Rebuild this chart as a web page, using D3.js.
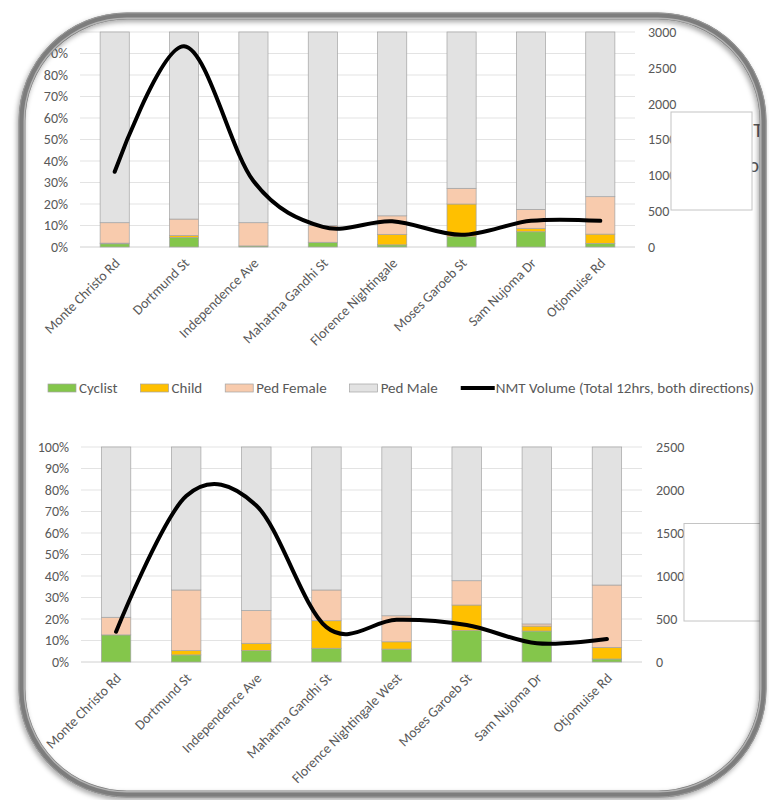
<!DOCTYPE html>
<html>
<head>
<meta charset="utf-8">
<script src="https://cdn.jsdelivr.net/npm/d3@7"></script>
<style>
  html, body { margin: 0; padding: 0; background: #ffffff; }
  svg { display: block; }
  text { font-family: Carlito, Lato, "Noto Sans", sans-serif; fill: #595959; }
</style>
</head>
<body>
<svg id="chart" width="769" height="800"></svg>
<script>
// ---- data -------------------------------------------------------------
const modes = ["Cyclist", "Child", "Ped Female", "Ped Male"];
const modeColors = ["#84c64b", "#ffc000", "#f8cbad", "#e2e2e2"];
const lineLabel = "NMT Volume (Total 12hrs, both directions)";

// upper panel
const roadsA = ["Monte Christo Rd", "Dortmund St", "Independence Ave", "Mahatma Gandhi St",
                "Florence Nightingale", "Moses Garoeb St", "Sam Nujoma Dr", "Otjomuise Rd"];
const cyclistA = [1.5, 4.5, 0.5, 2.2, 1.0, 4.8, 7.1, 1.7];
const childA   = [0.3, 0.8, 0.0, 0.0, 4.9, 15.2, 1.6, 4.3];
const femaleA  = [9.5, 7.7, 10.8, 7.8, 8.6, 7.3, 8.8, 17.4];
const volumeA  = [1050, 2800, 920, 280, 360, 170, 365, 365];
const pctTicksA = [0, 10, 20, 30, 40, 50, 60, 70, 80, 90, 100];
const volTicksA = [0, 500, 1000, 1500, 2000, 2500, 3000];

// lower panel
const roadsB = ["Monte Christo Rd", "Dortmund St", "Independence Ave", "Mahatma Gandhi St",
                "Florence Nightingale West", "Moses Garoeb St", "Sam Nujoma Dr", "Otjomuise Rd"];
const cyclistB = [12.6, 3.3, 5.3, 6.4, 6.0, 14.6, 14.4, 1.4];
const childB   = [0.0, 2.0, 3.4, 12.8, 3.4, 11.9, 2.3, 5.4];
const femaleB  = [8.2, 28.2, 15.2, 14.3, 12.1, 11.3, 1.0, 29.0];
const volumeB  = [352, 1930, 1820, 405, 490, 430, 217, 267];
const pctTicksB = [0, 10, 20, 30, 40, 50, 60, 70, 80, 90, 100];
const volTicksB = [0, 500, 1000, 1500, 2000, 2500];

// ---- helpers ----------------------------------------------------------
function rows(roads, cyc, chi, fem) {
  return roads.map((r, i) => ({
    road: r,
    "Cyclist": cyc[i],
    "Child": chi[i],
    "Ped Female": fem[i],
    "Ped Male": 100 - cyc[i] - chi[i] - fem[i]
  }));
}

const svg = d3.select("#chart");
const defs = svg.append("defs");

// frame geometry
const frame = { x: 22, y: 16, w: 741, h: 778, r: 105 };

defs.append("clipPath").attr("id", "inside")
  .append("rect")
  .attr("x", frame.x + 3).attr("y", frame.y + 3)
  .attr("width", frame.w - 6).attr("height", frame.h - 6)
  .attr("rx", frame.r - 3).attr("ry", frame.r - 3);

const shadow = defs.append("filter").attr("id", "frameShadow")
  .attr("x", "-5%").attr("y", "-5%").attr("width", "110%").attr("height", "110%");
shadow.append("feDropShadow").attr("dx", -1.5).attr("dy", 2.5)
  .attr("stdDeviation", 2.5).attr("flood-color", "#000").attr("flood-opacity", 0.35);

svg.append("rect").attr("width", 769).attr("height", 800).attr("fill", "#ffffff");

const content = svg.append("g").attr("clip-path", "url(#inside)");

function drawPanel(cfg) {
  const g = content.append("g");
  const data = rows(cfg.roads, cfg.cyc, cfg.chi, cfg.fem);

  const x = d3.scaleBand().domain(cfg.roads)
    .range([cfg.left, cfg.right]).paddingInner(0.58).paddingOuter(0.29);
  const y = d3.scaleLinear().domain([0, 100]).range([cfg.bottom, cfg.top]);
  const y2 = d3.scaleLinear().domain([0, d3.max(cfg.volTicks)]).range([cfg.bottom, cfg.top]);

  // gridlines
  g.append("g").selectAll("line").data(cfg.pctTicks).join("line")
    .attr("x1", cfg.left).attr("x2", cfg.right)
    .attr("y1", d => y(d)).attr("y2", d => y(d))
    .attr("stroke", d => d === 0 ? "#d0d0d0" : "#e3e3e3").attr("stroke-width", 1);

  // left percentage axis
  const axL = g.append("g").attr("transform", `translate(${cfg.left - 8},0)`)
    .call(d3.axisLeft(y).tickValues(cfg.pctTicks).tickFormat(d => d + "%")
      .tickSize(0).tickPadding(4));
  axL.select(".domain").remove();
  axL.selectAll("text").attr("font-size", 14).attr("fill", "#6e6e6e")
    .style("font-family", "Carlito, Lato, sans-serif");

  // right volume axis
  const axR = g.append("g").attr("transform", `translate(${cfg.rightAxisX},0)`)
    .call(d3.axisRight(y2).tickValues(cfg.volTicks).tickFormat(d3.format("d"))
      .tickSize(0).tickPadding(0));
  axR.select(".domain").remove();
  axR.selectAll("text").attr("font-size", 14).attr("fill", "#6e6e6e")
    .style("font-family", "Carlito, Lato, sans-serif");

  // stacked 100% bars
  const series = d3.stack().keys(modes)(data);
  g.append("g").selectAll("g").data(series).join("g")
    .attr("fill", (d, i) => modeColors[i])
    .selectAll("rect").data(d => d).join("rect")
    .attr("x", d => x(d.data.road))
    .attr("width", x.bandwidth())
    .attr("y", d => y(d[1]))
    .attr("height", d => Math.max(0, y(d[0]) - y(d[1])))
    .attr("stroke", "#a3a3a3").attr("stroke-width", 0.7);

  // rotated category labels
  g.append("g").selectAll("text").data(cfg.roads).join("text")
    .attr("text-anchor", "end")
    .attr("font-size", 14)
    .attr("fill", "#666")
    .attr("transform", d => `translate(${x(d) + x.bandwidth() / 2 + 6},${cfg.bottom + 17}) rotate(-45)`)
    .text(d => d);

  // smoothed volume line
  const line = d3.line()
    .x((d, i) => x(cfg.roads[i]) + x.bandwidth() / 2)
    .y(d => y2(d))
    .curve(d3.curveCardinal.tension(0));
  g.append("path").datum(cfg.vol)
    .attr("d", line)
    .attr("fill", "none").attr("stroke", "#000")
    .attr("stroke-width", 4).attr("stroke-linecap", "round").attr("stroke-linejoin", "round");
}

drawPanel({
  roads: roadsA, cyc: cyclistA, chi: childA, fem: femaleA, vol: volumeA,
  pctTicks: pctTicksA, volTicks: volTicksA,
  left: 80, right: 635, top: 32, bottom: 247, rightAxisX: 648
});

drawPanel({
  roads: roadsB, cyc: cyclistB, chi: childB, fem: femaleB, vol: volumeB,
  pctTicks: pctTicksB, volTicks: volTicksB,
  left: 81, right: 642, top: 447, bottom: 662, rightAxisX: 656
});

// legend shared by both panels
const legend = content.append("g").attr("transform", "translate(48,388)");
let lx = 0;
modes.forEach((m, i) => {
  legend.append("rect").attr("x", lx).attr("y", -4).attr("width", 28).attr("height", 8)
    .attr("fill", modeColors[i]).attr("stroke", "#a3a3a3").attr("stroke-width", 0.7);
  const t = legend.append("text").attr("x", lx + 31).attr("y", 5)
    .attr("font-size", 15).attr("fill", "#595959").text(m);
  lx += 31 + t.node().getComputedTextLength() + 23;
});
legend.append("line").attr("x1", lx).attr("x2", lx + 34).attr("y1", 0).attr("y2", 0)
  .attr("stroke", "#000").attr("stroke-width", 4);
legend.append("text").attr("x", lx + 35).attr("y", 5)
  .attr("font-size", 15).attr("fill", "#595959").text(lineLabel);

// text boxes sitting over the right margin
const side = content.append("g");
side.append("text").attr("x", 763).attr("y", 137).attr("text-anchor", "end")
  .attr("font-size", 20).attr("fill", "#222").text("NMT");
side.append("text").attr("x", 738).attr("y", 172)
  .attr("font-size", 20).attr("fill", "#222").text("Vo");
side.append("rect").attr("x", 671).attr("y", 112).attr("width", 81).attr("height", 98)
  .attr("fill", "#fff").attr("stroke", "#c4c4c4").attr("stroke-width", 1);
side.append("rect").attr("x", 684).attr("y", 523.5).attr("width", 80).attr("height", 97.5)
  .attr("fill", "#fff").attr("stroke", "#c4c4c4").attr("stroke-width", 1);

// picture frame
const fg = svg.append("g");
fg.append("rect")
  .attr("x", frame.x).attr("y", frame.y).attr("width", frame.w).attr("height", frame.h)
  .attr("rx", frame.r).attr("ry", frame.r)
  .attr("fill", "none").attr("stroke", "#7d7d7d").attr("stroke-width", 7)
  .attr("filter", "url(#frameShadow)");
fg.append("rect")
  .attr("x", frame.x + 2.2).attr("y", frame.y + 2.2).attr("width", frame.w - 4.4).attr("height", frame.h - 4.4)
  .attr("rx", frame.r - 2.2).attr("ry", frame.r - 2.2)
  .attr("fill", "none").attr("stroke", "#b4b4b4").attr("stroke-width", 1.4);
fg.append("rect")
  .attr("x", frame.x - 3).attr("y", frame.y - 3).attr("width", frame.w + 6).attr("height", frame.h + 6)
  .attr("rx", frame.r + 3).attr("ry", frame.r + 3)
  .attr("fill", "none").attr("stroke", "#9a9a9a").attr("stroke-width", 1);
</script>
</body>
</html>
